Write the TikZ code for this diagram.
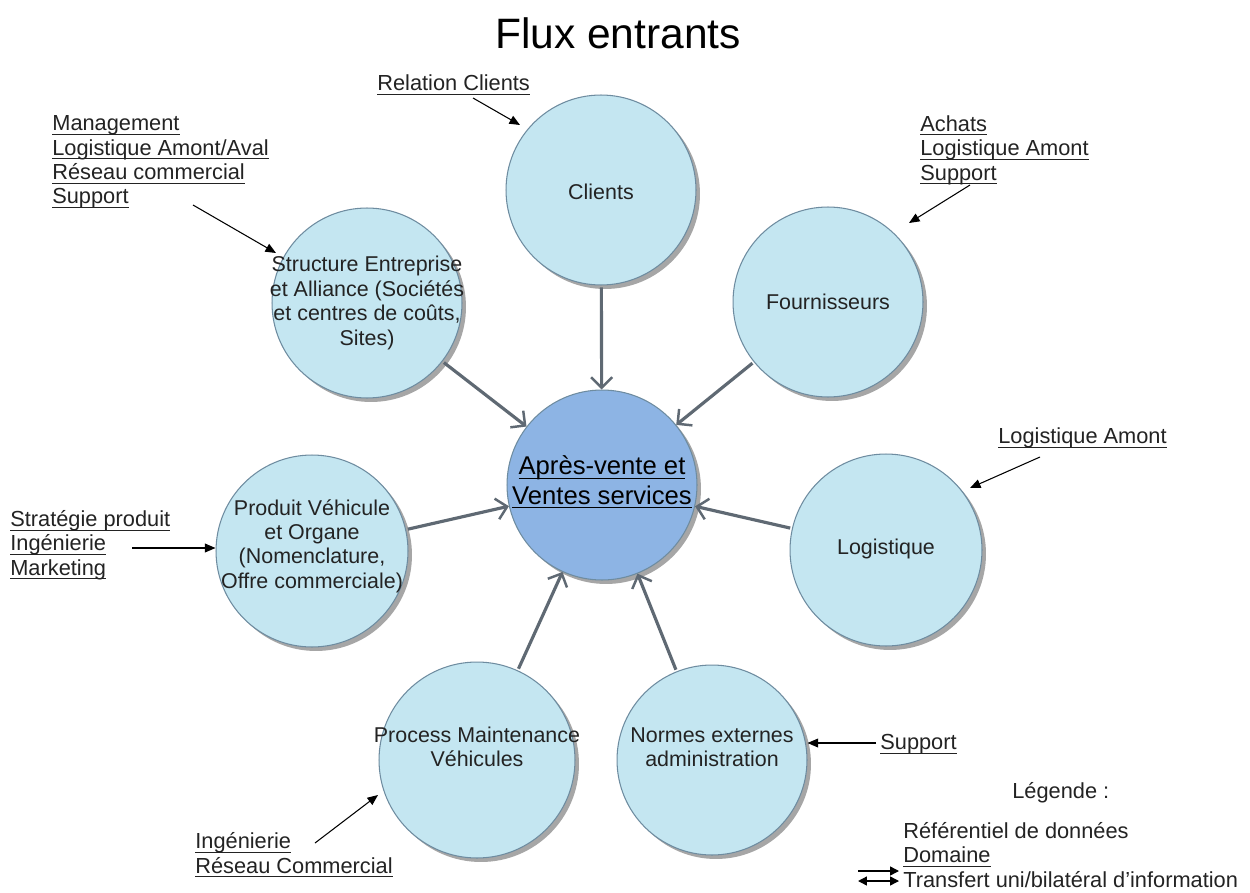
\documentclass[tikz,border=0pt]{standalone}
\usepackage{fontspec}
\setmainfont{Liberation Sans}
\usetikzlibrary{arrows.meta,shadows}
\definecolor{bub}{RGB}{196,230,241}
\definecolor{bubline}{RGB}{110,140,160}
\definecolor{core}{RGB}{141,180,228}
\definecolor{garrow}{RGB}{95,105,115}
\definecolor{txtc}{RGB}{35,35,35}
\newlength\ulnw
\newcommand\uln[1]{\settowidth\ulnw{#1}\rlap{\rule[-2.3pt]{\ulnw}{0.5pt}}#1}
\tikzset{
  bubble/.style={circle, draw=bubline, line width=0.6pt, fill=bub, minimum size=3.8cm, inner sep=0pt,
     drop shadow={shadow xshift=0.08cm, shadow yshift=-0.08cm, fill=black!35, opacity=1}},
  coreb/.style={bubble, fill=core},
  txt/.style={align=center, inner sep=0pt, text=txtc, font=\fontsize{12.2}{13.9}\selectfont},
  lab/.style={align=left, inner sep=0pt, anchor=west, text=txtc, font=\fontsize{12.4}{13.9}\selectfont},
  flow/.style={draw=garrow, line width=1.8pt, -{Straight Barb[length=6pt,width=12pt,line width=1.4pt]}, shorten <=1pt},
  feed/.style={draw=black, line width=0.6pt, -{Triangle[length=6pt,width=5pt]}}
}
\begin{document}
\begin{tikzpicture}[x=0.02cm,y=-0.02cm]
\useasboundingbox[fill=white] (0,0) rectangle (1250,892);
\node[inner sep=0pt, font=\fontsize{24.2}{28}\selectfont, text=black] (title) at (618,33) {Flux entrants};

% bubbles
\node[coreb] (c) at (602,485) {};
\node[bubble] (cl) at (601,190) {};
\node[bubble] (fo) at (828,302) {};
\node[bubble] (st) at (367,303) {};
\node[bubble, minimum size=3.84cm] (pr) at (312,551) {};
\node[bubble, minimum size=3.84cm] (lo) at (886,550) {};
\node[bubble, minimum size=3.92cm] (pm) at (477,760) {};
\node[bubble] (no) at (712,760) {};

% bubble texts
\node[txt, font=\fontsize{14.6}{16.8}\selectfont, text=black] (ct) at (602,482) {\uln{Après-vente et}\\\uln{Ventes services}};
\node[txt] (clt) at (601,192) {Clients};
\node[txt] (fot) at (828,302) {Fournisseurs};
\node[txt] (stt) at (367,303) {Structure Entreprise\\et Alliance (Sociétés\\et centres de coûts,\\Sites)};
\node[txt] (prt) at (312,546) {Produit Véhicule\\et Organe\\(Nomenclature,\\Offre commerciale)};
\node[txt] (lot) at (886,549) {Logistique};
\node[txt] (pmt) at (477,747) {Process Maintenance\\Véhicules};
\node[txt] (not) at (712,747) {Normes externes\\administration};

% flows into core
\draw[flow] (cl) -- (c);
\draw[flow] (st) -- (c);
\draw[flow] (fo) -- (c);
\draw[flow] (pr) -- (c);
\draw[flow] (lo) -- (c);
\draw[flow] (pm) -- (c);
\draw[flow] (no) -- (c);

% domain labels
\node[lab] (l1) at (377,85) {\uln{Relation Clients}};
\node[lab] (l2) at (52,162) {\uln{Management}\\\uln{Logistique Amont/Aval}\\\uln{Réseau commercial}\\\uln{Support}};
\node[lab] (l3) at (920,150) {\uln{Achats}\\\uln{Logistique Amont}\\\uln{Support}};
\node[lab] (l4) at (998,438) {\uln{Logistique Amont}};
\node[lab] (l5) at (10,545) {\uln{Stratégie produit}\\\uln{Ingénierie}\\\uln{Marketing}};
\node[lab] (l6) at (880,744) {\uln{Support}};
\node[lab] (l7) at (195,855) {\uln{Ingénierie}\\\uln{Réseau Commercial}};

% feed arrows
\coordinate (a1) at (473,98);
\coordinate (a2) at (193,205);
\coordinate (a3) at (970,185);
\coordinate (a4) at (1040,457);
\coordinate (a5) at (132,548);
\coordinate (a6) at (876,743);
\coordinate (a7) at (315,843);
\draw[feed] (a1) -- (520,125);
\draw[feed] (a2) -- (276,253);
\draw[feed] (a3) -- (909,223);
\draw[feed] (a4) -- (970,488);
\draw[feed] (a5) -- (a5 -| pr.west);
\draw[feed] (a6) -- (a6 -| no.east);
\draw[feed] (a7) -- (378,795);

% legend
\node[lab] (leg) at (1012,793) {Légende :};
\node[lab] (legt) at (903,855) {Référentiel de données\\\uln{Domaine}\\Transfert uni/bilatéral d'information};
\coordinate (g1) at (858,871);
\coordinate (g2) at (899,871);
\coordinate (g3) at (858,881);
\coordinate (g4) at (899,881);
\draw[draw=black, line width=0.8pt, -{Triangle[length=5pt,width=5pt]}] (g1) -- (g2);
\draw[draw=black, line width=0.8pt, {Triangle[length=5pt,width=5pt]}-{Triangle[length=5pt,width=5pt]}] (g3) -- (g4);
\end{tikzpicture}
\end{document}
